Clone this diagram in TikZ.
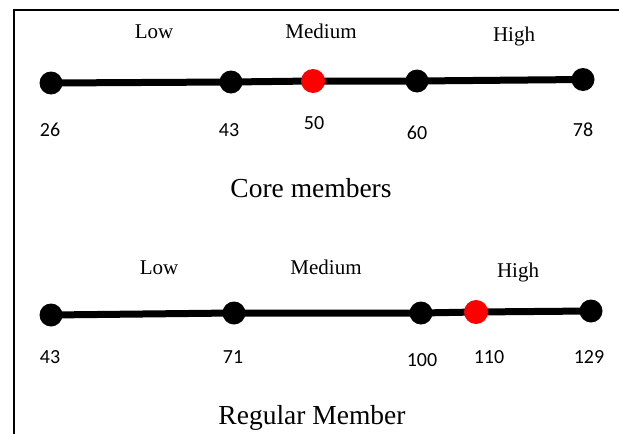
\documentclass[tikz,border=0pt]{standalone}
\usepackage{fontspec}
\setmainfont{Liberation Serif}
\newfontfamily\numfont{Carlito}
\usetikzlibrary{backgrounds}
\tikzset{
  dotb/.style={circle,fill=black,inner sep=0pt,minimum size=23pt},
  dotr/.style={circle,fill=red,inner sep=0pt,minimum size=24pt},
  bar/.style={line width=7pt},
  cat/.style={anchor=base,inner sep=0pt,font=\fontsize{21}{23}\selectfont},
  num/.style={anchor=base,inner sep=0pt,font=\numfont\fontsize{20}{22}\selectfont},
  ttl/.style={anchor=base,inner sep=0pt,font=\fontsize{27.5}{30}\selectfont},
  frame/.style={line width=1.5pt}
}
\begin{document}
\begin{tikzpicture}[x=1pt,y=-1pt]
\useasboundingbox (0,0) rectangle (619,434);
\coordinate (fa) at (14,10);
\coordinate (fb) at (619,10);
\coordinate (fc) at (14,434);
\draw[frame] (fb) -- (fa) -- (fc);
% Core members
\node[dotb] (a1) at (51,83) {};
\node[dotb] (a2) at (231,82) {};
\node[dotr] (a3) at (313,81) {};
\node[dotb] (a4) at (417,81) {};
\node[dotb] (a5) at (583,79.5) {};
\begin{scope}[on background layer]
\draw[bar] (a1.center) -- (a2.center) -- (a3.center) -- (a4.center) -- (a5.center);
\end{scope}
\node[cat] (al) at (154,38) {Low};
\node[cat] (am) at (321,38) {Medium};
\node[cat] (ah) at (514,41) {High};
\node[num] (n1) at (50,136) {26};
\node[num] (n2) at (229,136) {43};
\node[num] (n3) at (314,129) {50};
\node[num] (n4) at (417,139) {60};
\node[num] (n5) at (583,136) {78};
\node[ttl] (t1) at (311,197) {Core members};
% Regular member
\node[dotb] (b1) at (51,315) {};
\node[dotb] (b2) at (234,313) {};
\node[dotb] (b3) at (421,313) {};
\node[dotr] (b4) at (476,312) {};
\node[dotb] (b5) at (591,311) {};
\begin{scope}[on background layer]
\draw[bar] (b1.center) -- (b2.center) -- (b3.center) -- (b4.center) -- (b5.center);
\end{scope}
\node[cat] (bl) at (159,274) {Low};
\node[cat] (bm) at (326,274) {Medium};
\node[cat] (bh) at (518,277) {High};
\node[num] (m1) at (50,363) {43};
\node[num] (m2) at (233,363) {71};
\node[num] (m3) at (422,366) {100};
\node[num] (m4) at (489,363) {110};
\node[num] (m5) at (589,363) {129};
\node[ttl] (t2) at (312,424) {Regular Member};
\end{tikzpicture}
\end{document}
